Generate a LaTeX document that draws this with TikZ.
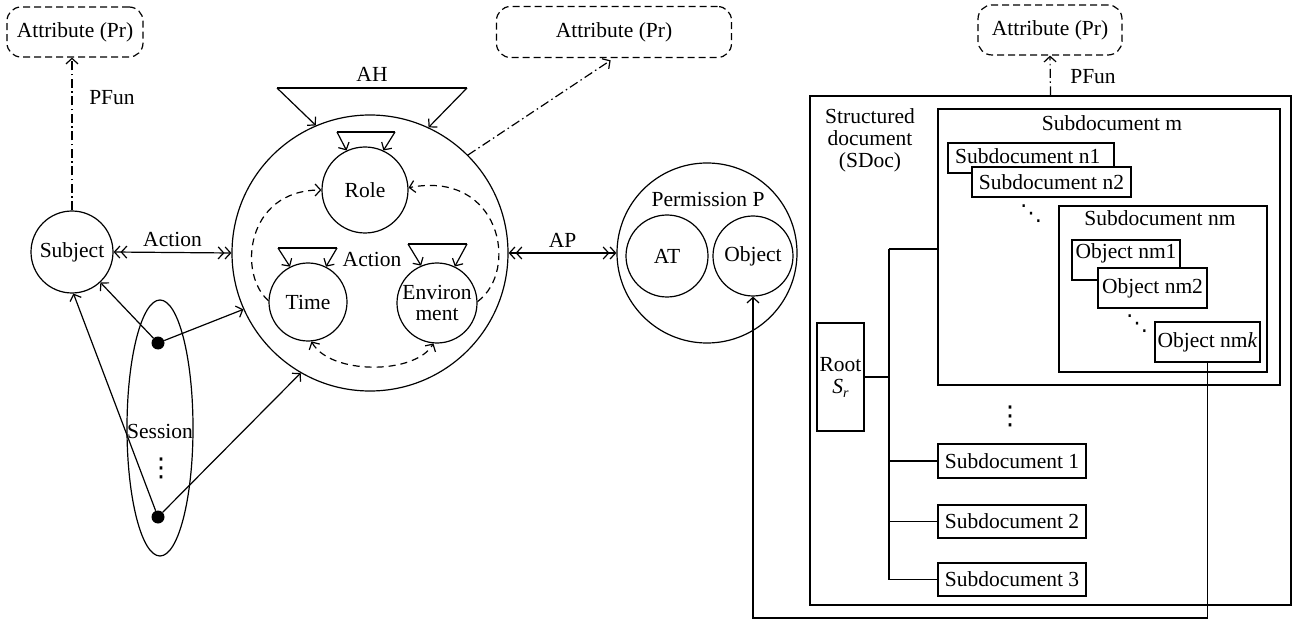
\documentclass[tikz,border=0pt]{standalone}
\usepackage{fontspec}
\setmainfont{Liberation Serif}
\newfontfamily\dotsfont{DejaVu Sans}
\usetikzlibrary{arrows.meta,shapes.geometric,calc}
\newcommand{\myvd}{{\dotsfont\fontsize{26}{26}\selectfont ⋮}}
\newcommand{\mydd}{{\dotsfont\fontsize{22}{22}\selectfont ⋱}}
\begin{document}
\begin{tikzpicture}[x=1pt,y=-1pt,
  every node/.style={font=\fontsize{21.5}{22}\selectfont},
  >={Straight Barb[length=5.5pt,width=12pt]},
  ln/.style={line width=1.2pt},
  circ/.style={circle,draw,line width=1.2pt,inner sep=0pt,align=center},
  box/.style={rectangle,draw,line width=1.2pt,inner sep=0pt,align=center},
  txt/.style={inner sep=0pt,align=center},
  dbox/.style={rectangle,draw,rounded corners=14pt,line width=1.2pt,dash pattern=on 7pt off 4pt,inner sep=0pt},
  dd/.style={dash pattern=on 9pt off 3.5pt on 1.5pt off 3.5pt},
  dsh/.style={dash pattern=on 7pt off 5pt},
  dotn/.style={circle,fill,inner sep=0pt,minimum size=13pt}]
\useasboundingbox (0,0) rectangle (1293,620);

% ---------- left part ----------
\node[dbox,minimum width=136pt,minimum height=50pt] (attr1) at (75,32) {Attribute (Pr)};
\node[circ,minimum size=82pt] (subj) at (72,252) {Subject};
\draw[ln,dd,->] (subj.north) -- (subj.north |- attr1.south);
\node[txt] (pf1) at (112,98) {PFun};

\node[circ,minimum size=276pt] (big) at (370,253) {};
\node[txt] (ahlab) at (372,74) {AH};
\coordinate (ah1) at (277,88);
\coordinate (ah2) at (467,88);
\draw[ln] (ah1) -- (ah2);
\draw[ln,->] (ah1) -- (big.113);
\draw[ln,->] (ah2) -- (big.65);

\node[circ,minimum size=86pt] (role) at (365,190) {Role};
\coordinate (r1) at (337,132);
\coordinate (r2) at (395,132);
\draw[ln] (r1) -- (r2);
\draw[ln,->] (r1) -- (role.115);
\draw[ln,->] (r2) -- (role.65);

\node[circ,minimum size=78pt] (time) at (308,302) {Time};
\coordinate (t1) at (278,248);
\coordinate (t2) at (337,248);
\draw[ln] (t1) -- (t2);
\draw[ln,->] (t1) -- (time.117);
\draw[ln,->] (t2) -- (time.63);

\node[circ,minimum size=80pt] (env) at (437,303) {Environ\\[-1pt]ment};
\coordinate (e1) at (408,244);
\coordinate (e2) at (467,244);
\draw[ln] (e1) -- (e2);
\draw[ln,->] (e1) -- (env.113);
\draw[ln,->] (e2) -- (env.64);

\node[txt] (inact) at (372,259) {Action};

\draw[ln,dsh,->] (time.178) .. controls (238,275) and (245,190) .. (role.180);
\draw[ln,dsh,->] (env.2) .. controls (520,270) and (500,170) .. (role.3);
\draw[ln,dsh,<->] (time.-85) .. controls (330,375) and (415,375) .. (env.-95);

\node[draw,ellipse,line width=1.2pt,minimum width=66pt,minimum height=256pt,inner sep=0pt] (sess) at (160,428) {};
\node[txt] (sesslab) at (160,431) {Session};
\node[txt] (sessdots) at (161,468) {\myvd};
\node[dotn] (d1) at (158,343) {};
\node[dotn] (d2) at (158,517) {};
\draw[ln,->] (d1) -- (subj.-47);
\draw[ln,->] (d1) -- (big.204);
\draw[ln,->] (d2) -- (subj.-88);
\draw[ln,->] (d2) -- (big.240);

\draw[ln,<<->>] (subj.east) -- (big.west) node[midway,above=5pt,txt] {Action};

% ---------- permission ----------
\node[circ,minimum size=180pt] (perm) at (707,253) {};
\node[txt] (permlab) at (708,199) {Permission P};
\node[circ,minimum size=82pt] (at) at (667,256) {AT};
\node[circ,minimum size=80pt] (objp) at (753,256) {Object};
\draw[ln,<<->>] (big.east) -- (perm.west) node[midway,above=5pt,txt] {AP};

\node[dbox,minimum width=235pt,minimum height=51pt] (attr2) at (614,32) {Attribute (Pr)};
\draw[ln,dd,->,shorten >=4pt] (big.45) -- (attr2.south);

% ---------- structured document ----------
\node[box,minimum width=481pt,minimum height=509pt] (sdoc) at (1050.5,350.5) {};
\node[dbox,minimum width=144pt,minimum height=50pt] (attr3) at (1050,30) {Attribute (Pr)};
\draw[ln,dd,->] (sdoc.north) -- (attr3.south);
\node[txt] (pf3) at (1093,77) {PFun};
\node[txt] (sdoclab) at (870,140) {Structured\\document\\(SDoc)};

\node[box,minimum width=342pt,minimum height=276pt] (subm) at (1109,247) {};
\node[txt] (submlab) at (1112,123) {Subdocument m};
\node[box,minimum width=166pt,minimum height=30pt] (n1) at (1031,158) {};
\node[txt,anchor=west] (n1lab) at (955,156) {Subdocument n1};
\node[box,fill=white,minimum width=159pt,minimum height=30pt] (n2) at (1051.5,182) {Subdocument n2};
\node[txt] (dd1) at (1031,214) {\mydd};

\node[box,minimum width=208pt,minimum height=166pt] (nm) at (1163,289) {};
\node[txt] (nmlab) at (1160,218) {Subdocument nm};
\node[box,minimum width=108pt,minimum height=40pt] (nm1) at (1126,260) {};
\node[txt] (nm1lab) at (1126,253) {Object nm1};
\node[box,fill=white,minimum width=109pt,minimum height=40pt] (nm2) at (1152.5,288) {Object nm2};
\node[txt] (dd2) at (1137,324) {\mydd};
\node[box,minimum width=105pt,minimum height=40pt] (nmk) at (1207.5,342) {Object nm\textit{k}};

\node[box,minimum width=47pt,minimum height=108pt] (root) at (840.5,377) {Root\\\textit{S}{\fontsize{14}{14}\selectfont\raisebox{-4pt}{\textit{r}}}};
\node[box,minimum width=148pt,minimum height=34pt] (sd1) at (1012,461) {Subdocument 1};
\node[box,minimum width=148pt,minimum height=33pt] (sd2) at (1012,521.5) {Subdocument 2};
\node[box,minimum width=148pt,minimum height=33pt] (sd3) at (1012,579.5) {Subdocument 3};
\node[txt] (vd) at (1010,416) {\myvd};

\coordinate (t0) at (889,249);
\draw[ln] (t0) -- (t0 |- sd3.west);
\draw[ln] (root.east) -- (root.east -| t0);
\draw[ln] (t0) -- (t0 -| subm.west);
\draw[ln] (sd1.west) -- (sd1.west -| t0);
\draw[ln] (sd2.west) -- (sd2.west -| t0);
\draw[ln] (sd3.west) -- (sd3.west -| t0);

\coordinate (loopy) at (0,618);
\draw[ln,->] (nmk.south) -- (nmk.south |- loopy) -| (objp.south);
\end{tikzpicture}
\end{document}
